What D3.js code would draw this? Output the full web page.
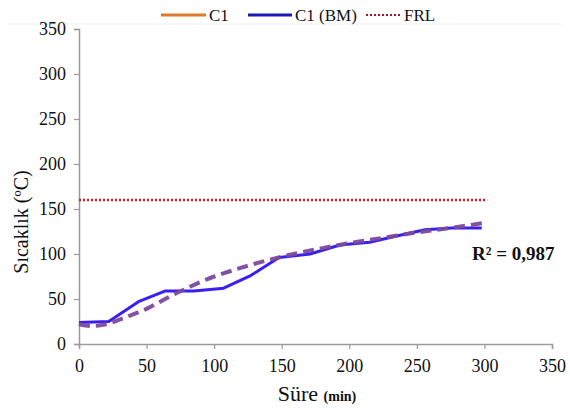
<!DOCTYPE html>
<html>
<head>
<meta charset="utf-8">
<script src="https://cdn.jsdelivr.net/npm/d3@7/dist/d3.min.js"></script>
<style>
  html, body { margin: 0; padding: 0; background: #fff; }
</style>
</head>
<body>
<svg id="chart" width="570" height="410"></svg>
<script>
// Measured temperature (C1, BM) over time
const timeBM = [0, 22, 44, 64, 85, 107, 127, 148, 171, 193, 215, 235, 256, 276, 298];
const tempBM = [24, 25, 47, 59, 59, 62, 76, 96, 100, 110, 113, 120, 127, 129, 129];

// Fitted trend curve
const timeFit = [0, 10, 20, 30, 40, 50, 60, 70, 80, 90, 100, 110, 125, 150, 175, 200, 225, 250, 275, 302];
const tempFit = [22, 20, 22, 27, 33, 39, 47, 55, 62, 69, 75, 80, 87, 97, 105, 112, 118, 124, 129, 135];

// Fire resistance limit
const frlValue = 160;
const frlEnd = 302;

const xTicks = [0, 50, 100, 150, 200, 250, 300, 350];
const yTicks = [0, 50, 100, 150, 200, 250, 300, 350];
const legendLabels = ["C1", "C1 (BM)", "FRL"];
const r2Label = "R\u00B2 = 0,987";

const FONT = "Liberation Serif";
const svg = d3.select("#chart");
const x = d3.scaleLinear().domain([0, 350]).range([79, 552]);
const y = d3.scaleLinear().domain([0, 350]).range([344, 29]);

// faint separator under legend
svg.append("line").attr("x1", 8).attr("x2", 562).attr("y1", 24).attr("y2", 24)
  .attr("stroke", "#f0f0f0").attr("stroke-width", 1);

// axes
const xAxis = svg.append("g").attr("transform", `translate(0,${y(0)})`)
  .call(d3.axisBottom(x).tickValues(xTicks).tickSize(5).tickPadding(8).tickFormat(d3.format("d")));
const yAxis = svg.append("g").attr("transform", `translate(${x(0)},0)`)
  .call(d3.axisLeft(y).tickValues(yTicks).tickSize(5).tickPadding(8).tickFormat(d3.format("d")));
[xAxis, yAxis].forEach(g => {
  g.attr("font-family", FONT).attr("font-size", 18);
  g.select(".domain").attr("stroke", "#9a9a9a").attr("stroke-width", 1.5);
  g.selectAll(".tick line").attr("stroke", "#9a9a9a").attr("stroke-width", 1.2);
  g.selectAll(".tick text").attr("fill", "#111");
});
xAxis.selectAll(".tick text").attr("dy", "0.85em");

// FRL dotted line
svg.append("line")
  .attr("x1", x(0)).attr("x2", x(frlEnd))
  .attr("y1", y(frlValue)).attr("y2", y(frlValue))
  .attr("stroke", "#e8141b").attr("stroke-width", 2.5).attr("stroke-dasharray", "2,2");

// measured series
const lineBM = d3.line().x((d, i) => x(timeBM[i])).y(d => y(d));
svg.append("path").datum(tempBM).attr("d", lineBM)
  .attr("fill", "none").attr("stroke", "#3b1ef2").attr("stroke-width", 3)
  .attr("stroke-linejoin", "round");

// trend curve
const lineFit = d3.line().curve(d3.curveMonotoneX).x((d, i) => x(timeFit[i])).y(d => y(d));
svg.append("path").datum(tempFit).attr("d", lineFit)
  .attr("fill", "none").attr("stroke", "#7b4a9e").attr("stroke-width", 4)
  .attr("stroke-dasharray", "11,6").attr("opacity", 0.95);

// R² label
svg.append("text").attr("x", 472).attr("y", 260).attr("font-family", FONT)
  .attr("font-size", 19).attr("font-weight", "bold").attr("fill", "#111")
  .text(r2Label);

// axis titles
svg.append("text").attr("transform", "translate(28,222) rotate(-90)").attr("font-family", FONT)
  .attr("text-anchor", "middle").attr("font-size", 20).attr("fill", "#111")
  .text("Sıcaklık  (ºC)");

const xt = svg.append("text").attr("x", 317).attr("y", 401).attr("font-family", FONT)
  .attr("text-anchor", "middle").attr("fill", "#111");
xt.append("tspan").attr("font-size", 22).text("Süre ");
xt.append("tspan").attr("font-size", 14).attr("font-weight", "bold").text("(min)");

// legend
const legend = [
  { label: legendLabels[0], x1: 161, x2: 206, color: "#e07a2a", dash: null, w: 3 },
  { label: legendLabels[1], x1: 248, x2: 292, color: "#1a1ab8", dash: null, w: 3 },
  { label: legendLabels[2], x1: 366, x2: 401, color: "#b01030", dash: "2,2", w: 2 }
];
legend.forEach(d => {
  svg.append("line").attr("x1", d.x1).attr("x2", d.x2).attr("y1", 15).attr("y2", 15)
    .attr("stroke", d.color).attr("stroke-width", d.w).attr("stroke-dasharray", d.dash);
  svg.append("text").attr("x", d.x2 + 3).attr("y", 21).attr("font-family", FONT)
    .attr("font-size", 17).attr("fill", "#111").text(d.label);
});
</script>
</body>
</html>
